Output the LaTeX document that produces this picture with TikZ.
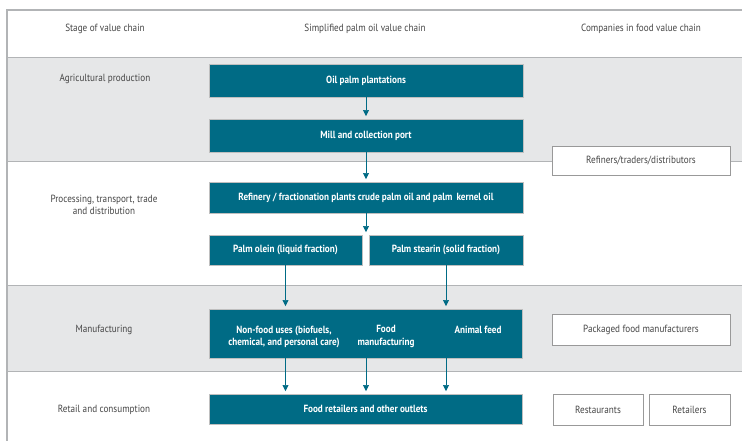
\documentclass[tikz,border=0pt]{standalone}
\usepackage{fontspec}
\setmainfont{PT Sans}[FakeStretch=0.88]
\usetikzlibrary{arrows.meta,positioning}
\definecolor{chainteal}{RGB}{0,107,133}
\definecolor{bandgrey}{RGB}{230,231,232}
\definecolor{bandline}{RGB}{178,180,182}
\definecolor{labelgrey}{RGB}{70,70,70}
\tikzset{
  chainbox/.style={draw=black!25, fill=chainteal, text=white, font=\fontsize{7.8}{9.4}\selectfont\bfseries, inner sep=0pt, align=center},
  firmbox/.style={draw=black!40, fill=white, text=labelgrey, inner sep=0pt, align=center},
  stagelabel/.style={text=labelgrey, align=center, inner sep=0pt},
  flow/.style={draw=chainteal, line width=0.5pt, -{Triangle[width=4.5pt,length=4.5pt]}, shorten >=2pt},
}
\begin{document}
\begin{tikzpicture}[x=0.75pt, y=-0.75pt, font=\fontsize{7.8}{9.4}\selectfont]
		\useasboundingbox (0,0) rectangle (742,441);
		%%%%% BANDS %%%%%
		\fill[white] (0,0) rectangle (742,441);
		\draw[bandline, fill=bandgrey] (7,57) rectangle (742,161);
		\draw[bandline, fill=bandgrey] (7,285) rectangle (742,371);
		\draw[bandline, line width=0.8pt] (742,10) -- (7,10) -- (7,441);
		
		%%%%% HEADINGS %%%%%
		\node[stagelabel] (headstage) at (105,29) {Stage of value chain};
		\node[stagelabel] (headchain) at (365,29) {Simplified palm oil value chain};
		\node[stagelabel] (headfirms) at (641,29) {Companies in food value chain};
		
		\node[stagelabel] (agri) at (105,79) {Agricultural production};
		\node[stagelabel] (proc) at (104,205) {Processing, transport, trade\\and distribution};
		\node[stagelabel] (manu) at (104,330) {Manufacturing};
		\node[stagelabel] (cons) at (104,410) {Retail and consumption};
		
		%%%%% VALUE CHAIN %%%%%
		\node[chainbox, minimum width=314*0.75pt, minimum height=33*0.75pt] (plant) at (366,80.5) {Oil palm plantations};
		\node[chainbox, minimum width=314*0.75pt, minimum height=33*0.75pt] (mill) at (366,135.5) {Mill and collection port};
		\node[chainbox, minimum width=314*0.75pt, minimum height=31*0.75pt] (refinery) at (366,197.5) {Refinery / fractionation plants crude palm oil and palm\, kernel oil};
		\node[chainbox, minimum width=153*0.75pt, minimum height=30*0.75pt] (olein) at (285.5,250) {Palm olein (liquid fraction)};
		\node[chainbox, minimum width=154*0.75pt, minimum height=30*0.75pt] (stearin) at (446,250) {Palm stearin (solid fraction)};
		\node[chainbox, minimum width=313*0.75pt, minimum height=49*0.75pt] (uses) at (365.5,333.5) {};
		\node[text=white, font=\fontsize{7.8}{9.4}\selectfont\bfseries, align=center, anchor=north] (nonfood) at (284,321) {Non-food uses (biofuels,\\chemical, and personal care)};
		\node[text=white, font=\fontsize{7.8}{9.4}\selectfont\bfseries, align=center, anchor=north] (foodman) at (386,321) {Food\\manufacturing};
		\node[text=white, font=\fontsize{7.8}{9.4}\selectfont\bfseries, align=center, anchor=north] (feed) at (478,321) {Animal feed};
		\node[chainbox, minimum width=313*0.75pt, minimum height=30*0.75pt] (outlets) at (365.5,409) {Food retailers and other outlets};
		
		\draw[flow] (plant) -- (mill);
		\draw[flow] (mill) -- (refinery);
		\draw[flow] (refinery.south) -- (refinery.south |- olein.north);
		\draw[flow] (olein.south) -- (olein.south |- uses.north);
		\draw[flow] (stearin.south) -- (stearin.south |- uses.north);
		\draw[flow] (uses.south -| olein.south) -- (olein.south |- outlets.north);
		\draw[flow] (uses.south -| refinery.south) -- (refinery.south |- outlets.north);
		\draw[flow] (uses.south -| stearin.south) -- (stearin.south |- outlets.north);
		
		%%%%% COMPANIES %%%%%
		\node[firmbox, minimum width=178*0.75pt, minimum height=29*0.75pt] (traders) at (641,160.5) {Refiners/traders/distributors};
		\node[firmbox, minimum width=178*0.75pt, minimum height=31*0.75pt] (packaged) at (641,329.5) {Packaged food manufacturers};
		\node[firmbox, minimum width=90*0.75pt, minimum height=31*0.75pt] (restaurants) at (598,409.5) {Restaurants};
		\node[firmbox, minimum width=81*0.75pt, minimum height=31*0.75pt] (retailers) at (689.5,409.5) {Retailers};
		%%%%% END %%%%%
	\end{tikzpicture}
\end{document}
